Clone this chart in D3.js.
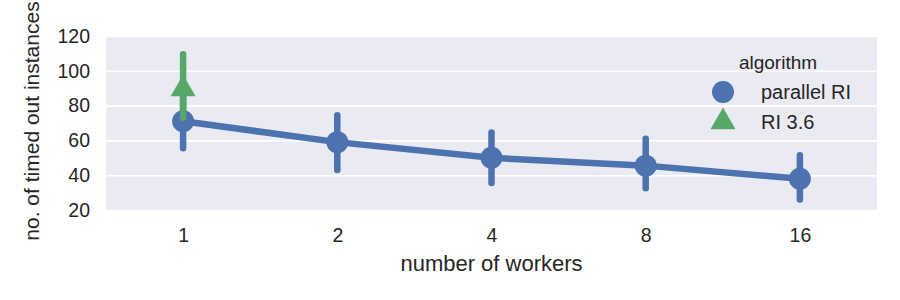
<!DOCTYPE html>
<html>
<head>
<meta charset="utf-8">
<script src="https://cdn.jsdelivr.net/npm/d3@7"></script>
<style>
  body { margin: 0; background: #fff; }
  text { font-family: "Liberation Sans", Arial, sans-serif; fill: #262626; }
</style>
</head>
<body>
<div id="chart-area"></div>
<script>
    var workers = ['1', '2', '4', '8', '16'];
    var parallelMean = [71, 59, 50, 45.5, 38];
    var parallelLow = [55.5, 43, 35.5, 32.5, 26];
    var parallelHigh = [86, 74.5, 64.5, 61, 51.5];
    var riWorkers = ['1'];
    var riMean = [89.5];
    var riLow = [73];
    var riHigh = [109.5];
    var yTicks = [20, 40, 60, 80, 100, 120];
    var algorithms = ['parallel RI', 'RI 3.6'];

    var margin = { left: 106, right: 23, top: 36, bottom: 90 };
    var width = 900 - margin.left - margin.right;
    var height = 300 - margin.top - margin.bottom;
    var blue = '#4C72B0';
    var green = '#55A868';

    var svg = d3.select('#chart-area')
        .append('svg')
        .attr('width', 900)
        .attr('height', 300);

    const g = svg.append('g').attr('transform', `translate(${margin.left},${margin.top})`);

    var xScale = d3.scalePoint()
        .domain(workers)
        .range([0, width])
        .padding(0.5);

    var yScale = d3.scaleLinear()
        .domain([20, 120])
        .range([height, 0]);

    g.append('rect')
        .attr('width', width)
        .attr('height', height)
        .attr('fill', '#EAEAF2');

    // horizontal grid
    g.append('g')
        .call(d3.axisLeft(yScale).tickValues(yTicks).tickSize(-width).tickFormat(''))
        .call((s) => s.select('.domain').remove())
        .call((s) => s.selectAll('line').attr('stroke', '#fff').attr('stroke-width', 1.6));

    var yAxis = g.append('g')
        .call(d3.axisLeft(yScale).tickValues(yTicks).tickSize(0).tickPadding(16));
    yAxis.select('.domain').remove();
    yAxis.selectAll('text').attr('font-size', '19.5px').style('font-family', '"Liberation Sans", Arial, sans-serif').attr('fill', '#262626');

    var xAxis = g.append('g')
        .attr('transform', `translate(0, ${height})`)
        .call(d3.axisBottom(xScale).tickSize(0).tickPadding(18));
    xAxis.select('.domain').remove();
    xAxis.selectAll('text').attr('font-size', '19.5px').style('font-family', '"Liberation Sans", Arial, sans-serif').attr('fill', '#262626');

    g.append('text')
        .attr('x', width / 2)
        .attr('y', height + 61)
        .attr('font-size', '22px')
        .attr('text-anchor', 'middle')
        .text('number of workers');

    g.append('text')
        .attr('transform', 'rotate(-90)')
        .attr('x', -height / 2 + 2)
        .attr('y', -margin.left + 39)
        .attr('font-size', '21px')
        .attr('text-anchor', 'middle')
        .text('no. of timed out instances');

    // parallel RI
    var line = d3.line()
        .x((d, i) => xScale(workers[i]))
        .y((d) => yScale(d));

    g.append('path')
        .datum(parallelMean)
        .attr('d', line)
        .attr('fill', 'none')
        .attr('stroke', blue)
        .attr('stroke-width', 6.5);

    g.selectAll('.ci-blue')
        .data(workers)
        .enter()
        .append('line')
        .attr('class', 'ci-blue')
        .attr('x1', (d) => xScale(d))
        .attr('x2', (d) => xScale(d))
        .attr('y1', (d, i) => yScale(parallelLow[i]))
        .attr('y2', (d, i) => yScale(parallelHigh[i]))
        .attr('stroke', blue)
        .attr('stroke-width', 6.5)
        .attr('stroke-linecap', 'round');

    g.selectAll('.pt-blue')
        .data(workers)
        .enter()
        .append('circle')
        .attr('class', 'pt-blue')
        .attr('cx', (d) => xScale(d))
        .attr('cy', (d, i) => yScale(parallelMean[i]))
        .attr('r', 11)
        .attr('fill', blue);

    // RI 3.6
    g.selectAll('.ci-green')
        .data(riWorkers)
        .enter()
        .append('line')
        .attr('class', 'ci-green')
        .attr('x1', (d) => xScale(d))
        .attr('x2', (d) => xScale(d))
        .attr('y1', (d, i) => yScale(riLow[i]))
        .attr('y2', (d, i) => yScale(riHigh[i]))
        .attr('stroke', green)
        .attr('stroke-width', 6.5)
        .attr('stroke-linecap', 'round');

    var tri = d3.symbol().type(d3.symbolTriangle).size(270);

    g.selectAll('.pt-green')
        .data(riWorkers)
        .enter()
        .append('path')
        .attr('class', 'pt-green')
        .attr('d', tri)
        .attr('transform', (d, i) => `translate(${xScale(d)},${yScale(riMean[i])})`)
        .attr('fill', green);

    // legend
    const legend = svg.append('g').attr('transform', 'translate(723, 0)');
    legend.append('text')
        .attr('x', 55)
        .attr('y', 69)
        .attr('font-size', '19px')
        .attr('text-anchor', 'middle')
        .text('algorithm');

    algorithms.forEach((alg, i) => {
        const row = legend.append('g').attr('transform', `translate(0, ${92 + i * 30})`);
        if (i === 0) {
            row.append('circle').attr('r', 11).attr('fill', blue);
        } else {
            row.append('path').attr('d', tri).attr('fill', green);
        }
        row.append('text')
            .attr('x', 38)
            .attr('y', 6.5)
            .attr('font-size', '20px')
            .text(alg);
    });
</script>
</body>
</html>
